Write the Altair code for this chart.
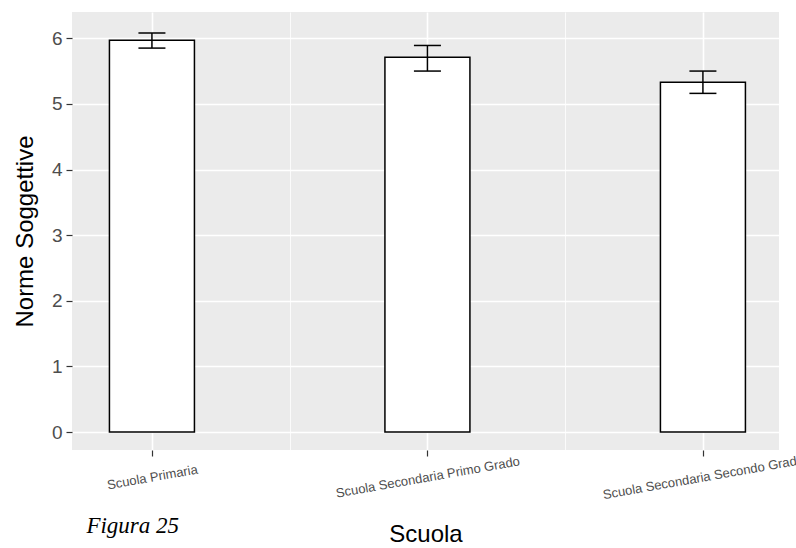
import altair as alt
import pandas as pd

schools = ["Scuola Primaria", "Scuola Secondaria Primo Grado", "Scuola Secondaria Secondo Grado"]
positions = [1, 2, 3]
means = [5.97, 5.71, 5.33]
err_low = [5.85, 5.50, 5.16]
err_high = [6.08, 5.89, 5.50]
y_ticks = [0, 1, 2, 3, 4, 5, 6]
y_minor = [0.5, 1.5, 2.5, 3.5, 4.5, 5.5]
x_minor = [1.5, 2.5]

df = pd.DataFrame({"pos": positions, "school": schools, "mean": means,
                   "lo": err_low, "hi": err_high})

label_expr = " : ".join(
    f"datum.value == {p} ? '{s}'" for p, s in zip(positions, schools)
) + " : ''"

minor_test = "datum.value % 1 != 0"

x_scale = alt.Scale(domain=[0.728, 3.258], nice=False, zero=False)
y_scale = alt.Scale(domain=[-0.274, 6.40], nice=False, zero=False)

x_axis = alt.Axis(
    title="Scuola", values=sorted(positions + x_minor), labelExpr=label_expr,
    labelAngle=350, labelAlign="center", labelBaseline="middle",
    labelFontSize=13, labelColor="#4D4D4D", labelFont="Liberation Sans",
    labelPadding=21, labelLimit=0, tickSize=6, tickColor="#333333", tickWidth=1.2,
    tickOpacity={"condition": {"test": minor_test, "value": 0}, "value": 1},
    grid=True, gridColor="white",
    gridWidth={"condition": {"test": minor_test, "value": 0.8}, "value": 1.6},
    domain=False, titleFontSize=24, titleFont="Liberation Sans",
    titleFontWeight="normal", titleColor="black", titlePadding=21,
    labelOverlap=False, labelFlush=False,
)
y_axis = alt.Axis(
    title="Norme Soggettive", values=sorted(y_ticks + y_minor),
    labelExpr="datum.value % 1 == 0 ? datum.value : ''",
    labelFontSize=19, labelColor="#4D4D4D", labelFont="Liberation Sans",
    labelPadding=4, tickSize=6, tickColor="#333333", tickWidth=1.2,
    tickOpacity={"condition": {"test": minor_test, "value": 0}, "value": 1},
    grid=True, gridColor="white",
    gridWidth={"condition": {"test": minor_test, "value": 0.8}, "value": 1.6},
    domain=False, titleFontSize=24, titleFont="Liberation Sans",
    titleFontWeight="normal", titleColor="black", titlePadding=14,
    labelOverlap=False,
)

base = alt.Chart(df)

bars = base.mark_bar(size=85, fill="white", stroke="black", strokeWidth=1.5).encode(
    x=alt.X("pos:Q", scale=x_scale, axis=x_axis),
    y=alt.Y("mean:Q", scale=y_scale, axis=y_axis),
    y2=alt.datum(0),
)

err_line = base.mark_rule(color="black", strokeWidth=1.5).encode(
    x="pos:Q", y="lo:Q", y2="hi:Q"
)
cap_lo = base.mark_tick(orient="horizontal", size=27, thickness=1.5, color="black", opacity=1).encode(
    x="pos:Q", y="lo:Q"
)
cap_hi = base.mark_tick(orient="horizontal", size=27, thickness=1.5, color="black", opacity=1).encode(
    x="pos:Q", y="hi:Q"
)

chart = alt.layer(bars, err_line, cap_lo, cap_hi).properties(
    width=707, height=438,
    padding={"left": 72, "top": 12, "right": 17, "bottom": 98},
    autosize="none",
    title=alt.TitleParams(
        text="Figura 25", orient="bottom", anchor="start",
        font="Liberation Serif", fontStyle="italic", fontWeight="normal",
        fontSize=23, color="black", dx=73, dy=-36,
    ),
).configure(
    background="white",
    view=alt.ViewConfig(fill="#EBEBEB", stroke=None),
)

chart.save("out.html", embed_options={"renderer": "svg", "actions": False})
